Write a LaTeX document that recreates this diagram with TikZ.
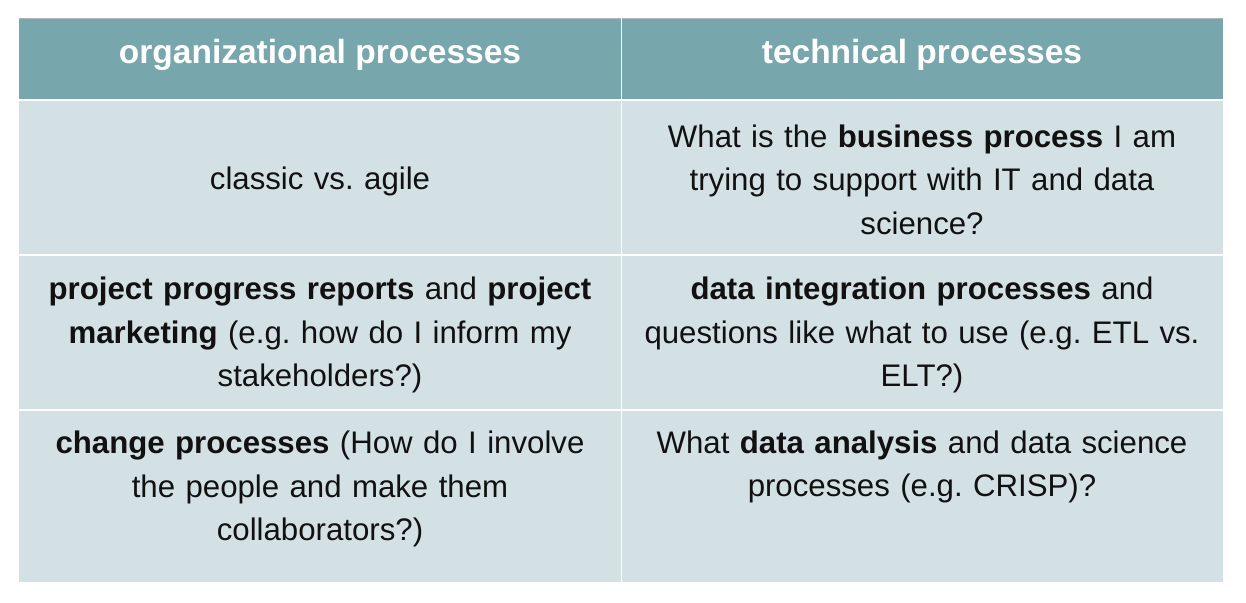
\documentclass[tikz,border=0pt]{standalone}
\usepackage{fontspec}
\setmainfont{Liberation Sans}
\frenchspacing
\definecolor{headbg}{HTML}{78A6AD}
\definecolor{cellbg}{HTML}{D3E1E4}
\definecolor{txt}{HTML}{111111}
\begin{document}
\begin{tikzpicture}[x=1pt,y=-1pt,
  headtext/.style={text=white,font=\fontsize{33.5}{40}\selectfont\bfseries,inner sep=0pt},
  celltext/.style={text=txt,font=\fontsize{31.2}{43.5}\selectfont\frenchspacing,align=center,inner sep=0pt,text width=590pt},
  grid/.style={draw=white,line width=1.2pt}]
\useasboundingbox (0,0) rectangle (1246,602);
\fill[white] (0,0) rectangle (1246,602);
\fill[headbg] (19,18) rectangle (1223,100);
\fill[cellbg] (19,100) rectangle (1223,582);
\draw[color=black!30,line width=0.8pt] (19,18.4) -- (1223,18.4);
\draw[grid] (621.5,18) -- (621.5,582);
\draw[grid] (19,100) -- (1223,100);
\draw[grid] (19,255) -- (1223,255);
\draw[grid] (19,410) -- (1223,410);
\node[headtext] (h1) at (320,55) {organizational processes};
\node[headtext] (h2) at (922,55) {technical processes};
\node[celltext] (a1) at (320,181) {classic vs. agile};
\node[celltext] (b1) at (922,179.5) {What is the \textbf{business process} I am\\trying to support with IT and data\\science?};
\node[celltext] (a2) at (320,335) {\textbf{project progress reports} and \textbf{project}\\\textbf{marketing} (e.g. how do I inform my\\stakeholders?)};
\node[celltext] (b2) at (922,335) {\textbf{data integration processes} and\\questions like what to use (e.g. ETL vs.\\ELT?)};
\node[celltext] (a3) at (320,489) {\textbf{change processes} (How do I involve\\the people and make them\\collaborators?)};
\node[celltext] (b3) at (922,467) {What \textbf{data analysis} and data science\\processes (e.g. CRISP)?};
\end{tikzpicture}
\end{document}
